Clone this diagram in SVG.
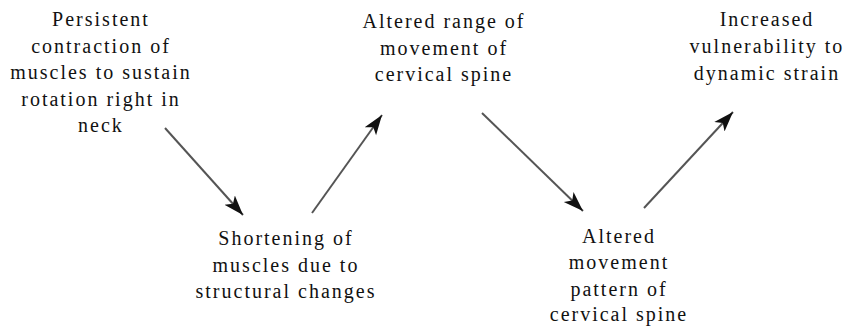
<svg xmlns="http://www.w3.org/2000/svg" width="857" height="326" viewBox="0 0 857 326">
<style>
text{font-family:"Liberation Serif","Times New Roman",serif;font-size:20px;fill:#111;letter-spacing:2px;text-anchor:middle}
.c{stroke:#555;stroke-width:2;fill:none}
</style>
<defs>
<marker id="ah" markerUnits="userSpaceOnUse" markerWidth="22" markerHeight="16" viewBox="0 0 22 16" refX="20" refY="8" orient="auto">
<path d="M0,1 L20,8 L0,15 L5,8 z" fill="#111"/>
</marker>
</defs>
<rect width="857" height="326" fill="#fff"/>
<g id="n1">
<text x="101" y="26">Persistent</text>
<text x="101" y="53">contraction of</text>
<text x="101" y="79">muscles to sustain</text>
<text x="101" y="106">rotation right in</text>
<text x="101" y="132">neck</text>
</g>
<g id="n2">
<text x="286" y="245">Shortening of</text>
<text x="286" y="272">muscles due to</text>
<text x="286" y="298">structural changes</text>
</g>
<g id="n3">
<text x="444" y="28">Altered range of</text>
<text x="444" y="55">movement of</text>
<text x="444" y="81">cervical spine</text>
</g>
<g id="n4">
<text x="619" y="243">Altered</text>
<text x="619" y="269">movement</text>
<text x="619" y="296">pattern of</text>
<text x="619" y="321">cervical spine</text>
</g>
<g id="n5">
<text x="767" y="26">Increased</text>
<text x="767" y="53">vulnerability to</text>
<text x="767" y="80">dynamic strain</text>
</g>
<g id="connectors">
<line class="c" x1="165" y1="128" x2="243" y2="215" marker-end="url(#ah)"/>
<line class="c" x1="312" y1="213" x2="382" y2="115" marker-end="url(#ah)"/>
<line class="c" x1="482" y1="113" x2="583" y2="211" marker-end="url(#ah)"/>
<line class="c" x1="644" y1="208" x2="733" y2="112" marker-end="url(#ah)"/>
</g>
</svg>
